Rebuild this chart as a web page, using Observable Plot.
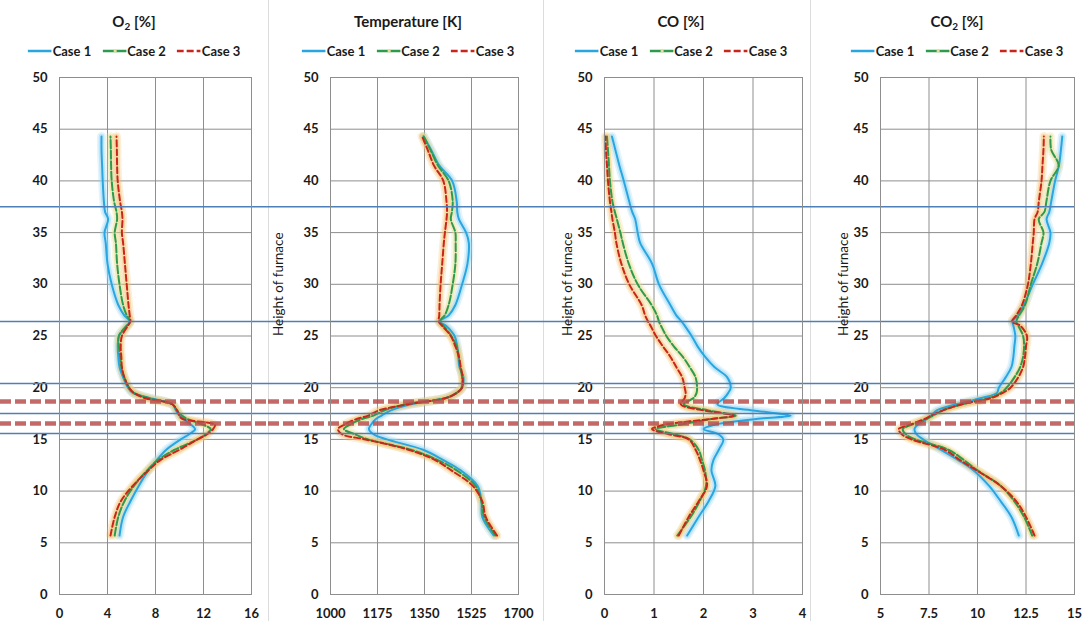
<!DOCTYPE html>
<html>
<head>
<meta charset="utf-8">
<script src="https://cdn.jsdelivr.net/npm/d3@7"></script>
<script src="https://cdn.jsdelivr.net/npm/@observablehq/plot@0.6"></script>
<style>
  html, body { margin: 0; padding: 0; background: #fff; }
  #root { position: relative; width: 1083px; height: 621px; overflow: hidden; background: #fff; font-family: Lato, "Open Sans", sans-serif; }
  .panel { position: absolute; top: 0; height: 621px; }
  .sep { position: absolute; top: 0; width: 1px; height: 621px; background: #dcdcdc; }
  .title { position: absolute; top: 11px; transform: translateX(-50%); white-space: nowrap; font-weight: bold; font-size: 15px; color: #1a1a1a; line-height: 20px; }
  .title sub { font-size: 10px; vertical-align: -3px; line-height: 0; }
  .legend { position: absolute; top: 42px; transform: translateX(-50%); white-space: nowrap; font-weight: bold; font-size: 13px; color: #1a1a1a; line-height: 18px; display: flex; gap: 11px; }
  .legend span.item { display: inline-flex; align-items: center; gap: 1px; }
  .legend svg { display: block; }
  .panel > svg { position: absolute; left: 0; top: 0; overflow: visible; }
</style>
</head>
<body>
<div id="root"></div>
<script>
// ---- Data ----
const heights = [5.7, 7.5, 9, 10.5, 12, 13, 14, 15, 15.5, 16, 16.4, 17, 17.3, 17.8, 18.4, 19, 19.5, 20, 21, 22, 23, 24, 25, 26, 26.4, 27, 28, 30, 32, 34, 35, 36.3, 37, 38, 40, 41.5, 43, 44.3];

const o2Case1 = [5.0, 5.3, 5.9, 6.6, 7.4, 8.1, 8.9, 10.1, 10.8, 11.3, 11.0, 10.3, 10.0, 9.7, 9.4, 7.5, 6.1, 5.7, 5.3, 5.0, 4.9, 4.85, 4.95, 5.6, 5.85, 5.4, 4.9, 4.35, 4.0, 3.85, 3.75, 4.05, 3.8, 3.7, 3.6, 3.55, 3.5, 3.5];
const o2Case2 = [4.6, 4.9, 5.4, 6.2, 7.3, 8.2, 9.6, 11.5, 12.2, 12.6, 12.0, 10.6, 10.2, 9.8, 9.4, 7.4, 6.2, 5.8, 5.4, 5.15, 5.05, 4.95, 4.95, 5.6, 5.9, 5.6, 5.3, 5.0, 4.8, 4.7, 4.6, 4.8, 4.75, 4.55, 4.35, 4.3, 4.28, 4.25];
const o2Case3 = [4.25, 4.6, 5.1, 6.1, 7.4, 8.4, 10.0, 11.5, 12.3, 12.8, 12.95, 10.2, 10.0, 9.8, 9.4, 7.1, 6.2, 5.8, 5.4, 5.2, 5.15, 5.1, 5.2, 5.7, 5.9, 5.85, 5.75, 5.6, 5.45, 5.3, 5.2, 5.25, 5.2, 5.05, 4.85, 4.8, 4.78, 4.75];

const tempCase1 = [1608, 1565, 1562, 1548, 1485, 1420, 1345, 1210, 1160, 1143, 1150, 1170, 1190, 1225, 1300, 1430, 1470, 1490, 1495, 1480, 1476, 1472, 1462, 1430, 1407, 1440, 1465, 1490, 1510, 1515, 1505, 1478, 1472, 1470, 1453, 1405, 1375, 1347];
const tempCase2 = [1614, 1572, 1562, 1540, 1470, 1400, 1300, 1140, 1090, 1050, 1070, 1120, 1160, 1200, 1280, 1430, 1470, 1488, 1490, 1483, 1478, 1470, 1450, 1420, 1406, 1425, 1440, 1455, 1465, 1466, 1465, 1448, 1452, 1455, 1440, 1400, 1372, 1347];
const tempCase3 = [1620, 1578, 1565, 1530, 1450, 1390, 1290, 1130, 1043, 1028, 1050, 1100, 1140, 1180, 1290, 1430, 1470, 1490, 1492, 1485, 1478, 1465, 1448, 1415, 1403, 1405, 1406, 1410, 1416, 1422, 1426, 1432, 1434, 1432, 1420, 1385, 1362, 1341];

const coCase1 = [1.67, 1.9, 2.1, 2.24, 2.16, 2.2, 2.31, 2.4, 2.3, 2.0, 2.2, 3.1, 3.76, 3.0, 2.28, 2.42, 2.5, 2.55, 2.48, 2.22, 2.03, 1.88, 1.76, 1.62, 1.56, 1.45, 1.33, 1.1, 0.96, 0.72, 0.67, 0.62, 0.56, 0.5, 0.39, 0.3, 0.22, 0.15];
const coCase2 = [1.47, 1.74, 1.92, 2.05, 2.03, 1.97, 1.9, 1.72, 1.4, 1.03, 1.5, 2.2, 2.65, 2.1, 1.6, 1.8, 1.86, 1.87, 1.84, 1.72, 1.58, 1.4, 1.25, 1.14, 1.1, 1.06, 0.95, 0.67, 0.49, 0.37, 0.32, 0.25, 0.21, 0.16, 0.11, 0.09, 0.07, 0.05];
const coCase3 = [1.5, 1.7, 1.9, 2.07, 2.0, 1.93, 1.84, 1.7, 1.3, 0.96, 1.2, 2.2, 2.61, 2.0, 1.54, 1.62, 1.64, 1.62, 1.57, 1.45, 1.33, 1.18, 1.04, 0.93, 0.88, 0.82, 0.75, 0.5, 0.34, 0.24, 0.21, 0.16, 0.14, 0.11, 0.07, 0.05, 0.03, 0.02];

const co2Case1 = [12.13, 11.75, 11.2, 10.6, 9.8, 9.0, 8.1, 7.2, 6.85, 6.75, 6.9, 7.4, 7.6, 7.9, 8.9, 10.2, 11.0, 11.1, 11.45, 11.75, 11.85, 11.9, 11.95, 11.85, 11.8, 12.1, 12.4, 12.85, 13.33, 13.7, 13.76, 13.56, 13.7, 13.8, 14.0, 14.2, 14.3, 14.37];
const co2Case2 = [12.82, 12.4, 11.9, 11.2, 10.0, 9.3, 8.5, 6.8, 6.3, 6.15, 6.6, 7.4, 7.7, 8.2, 9.2, 10.6, 11.2, 11.5, 11.9, 12.2, 12.35, 12.4, 12.35, 12.1, 12.0, 12.15, 12.45, 12.75, 13.08, 13.3, 13.4, 13.16, 13.45, 13.55, 13.76, 14.18, 13.8, 13.76];
const co2Case3 = [12.94, 12.5, 12.0, 11.2, 9.95, 9.1, 8.3, 6.6, 6.1, 5.94, 6.5, 7.3, 7.6, 8.2, 9.2, 10.7, 11.3, 11.7, 12.1, 12.35, 12.45, 12.5, 12.55, 12.2, 11.78, 12.0, 12.3, 12.6, 12.75, 12.85, 12.9, 12.94, 13.1, 13.16, 13.3, 13.35, 13.4, 13.42];

const o2Ticks = [0, 4, 8, 12, 16];
const tempTicks = [1000, 1175, 1350, 1525, 1700];
const coTicks = [0, 1, 2, 3, 4];
const co2Ticks = [5, 7.5, 10, 12.5, 15];
const heightTicks = [0, 5, 10, 15, 20, 25, 30, 35, 40, 45, 50];

const caseNames = ["Case 1", "Case 2", "Case 3"];
const zoneLines = [37.5, 26.4, 20.4, 17.5, 15.57];   // solid blue horizontal lines
const reactionLines = [18.67, 16.54];                 // dashed red horizontal lines
const yLabel = "Height of furnace";

// ---- Styling ----
const gridColor = "#8e8e8e";
const caseColors = ["#29a6e0", "#2e9a4f", "#c8251d"];
const glowColors = ["#8fd3f4", "#e6dd8e", "#f5c06a"];
const dashes = [null, "8,2.5", "6,3"];

const panels = [
  {left: 0, width: 268, ml: 59, mr: 17, extR: 17, domain: [0, 16], ticks: o2Ticks, series: [o2Case1, o2Case2, o2Case3], title: "O<sub>2</sub> [%]", cx: 134, labelDx: null},
  {left: 268, width: 275, ml: 62, mr: 25, extR: 25, domain: [1000, 1700], ticks: tempTicks, series: [tempCase1, tempCase2, tempCase3], title: "Temperature [K]", cx: 140, labelDx: -52},
  {left: 543, width: 267, ml: 61, mr: 8, extR: 8, domain: [0, 4], ticks: coTicks, series: [coCase1, coCase2, coCase3], title: "CO [%]", cx: 138, labelDx: -37},
  {left: 810, width: 273, ml: 70, mr: 9, extR: 1, domain: [5, 15], ticks: co2Ticks, series: [co2Case1, co2Case2, co2Case3], title: "CO<sub>2</sub> [%]", cx: 147, labelDx: -37}
];

const root = document.getElementById("root");

// panel separators
[268, 543, 810].forEach(x => {
  const s = document.createElement("div");
  s.className = "sep";
  s.style.left = x + "px";
  root.appendChild(s);
});

function legendHtml() {
  return caseNames.map((name, i) => {
    let inner;
    if (i === 0) inner = `<line x1="0" x2="24" y1="4" y2="4" stroke="${caseColors[0]}" stroke-width="2.5"/>`;
    else if (i === 1) inner = `<line x1="0" x2="24" y1="4" y2="4" stroke="${caseColors[1]}" stroke-width="2.5"/><line x1="11" x2="14" y1="4" y2="4" stroke="#e6dd8e" stroke-width="2.5"/>`;
    else inner = `<line x1="0" x2="24" y1="4" y2="4" stroke="${caseColors[2]}" stroke-width="2.5" stroke-dasharray="7,3"/>`;
    return `<span class="item"><svg width="24" height="8">${inner}</svg>${name}</span>`;
  }).join("");
}

panels.forEach(p => {
  const div = document.createElement("div");
  div.className = "panel";
  div.style.left = p.left + "px";
  div.style.width = p.width + "px";

  const rows = p.series.map(arr => heights.map((h, i) => ({h, v: arr[i]})));

  const marks = [
    Plot.ruleX(p.ticks, {stroke: gridColor, strokeWidth: 1}),
    Plot.ruleY(heightTicks, {stroke: gridColor, strokeWidth: 1}),
  ];
  // glow underlays
  rows.forEach((r, i) => {
    marks.push(Plot.line(r, {x: "v", y: "h", stroke: glowColors[i], strokeWidth: 9, strokeOpacity: 0.25, curve: "catmull-rom"}));
    marks.push(Plot.line(r, {x: "v", y: "h", stroke: glowColors[i], strokeWidth: 5.5, strokeOpacity: 0.45, curve: "catmull-rom"}));
  });
  rows.forEach((r, i) => {
    const opts = {x: "v", y: "h", stroke: caseColors[i], strokeWidth: 2, curve: "catmull-rom"};
    if (dashes[i]) opts.strokeDasharray = dashes[i];
    marks.push(Plot.line(r, opts));
  });
  marks.push(Plot.ruleY(zoneLines, {stroke: "#4f7fb8", strokeWidth: 1.5, insetLeft: -p.ml, insetRight: -p.extR}));
  marks.push(Plot.ruleY(reactionLines, {stroke: "#b9504d", strokeOpacity: 0.85, strokeWidth: 4.5, strokeDasharray: "11,4", insetLeft: -p.ml, insetRight: -p.extR}));
  if (p.labelDx !== null) {
    marks.push(Plot.text([yLabel], {text: d => d, frameAnchor: "left", rotate: -90, dx: p.labelDx, fontSize: 13.5, fontWeight: "normal", fill: "#1a1a1a"}));
  }

  const chart = Plot.plot({
    width: p.width,
    height: 621,
    marginLeft: p.ml,
    marginRight: p.mr,
    marginTop: 77,
    marginBottom: 27,
    style: {fontFamily: "Lato, 'Open Sans', sans-serif", fontSize: "13px", fontWeight: "bold", color: "#1a1a1a", background: "transparent", overflow: "visible"},
    x: {domain: p.domain, ticks: p.ticks, tickSize: 0, tickPadding: 14, tickFormat: d => String(d), label: null},
    y: {domain: [0, 50], ticks: heightTicks, tickSize: 0, tickPadding: 12, tickFormat: d => String(d), label: null},
    marks: [
      ...marks,
      Plot.frame({stroke: gridColor, strokeWidth: 1})
    ]
  });
  div.appendChild(chart);

  const t = document.createElement("div");
  t.className = "title";
  t.style.left = p.cx + "px";
  t.innerHTML = p.title;
  div.appendChild(t);

  const lg = document.createElement("div");
  lg.className = "legend";
  lg.style.left = p.cx + "px";
  lg.innerHTML = legendHtml();
  div.appendChild(lg);

  root.appendChild(div);
});
</script>
</body>
</html>
